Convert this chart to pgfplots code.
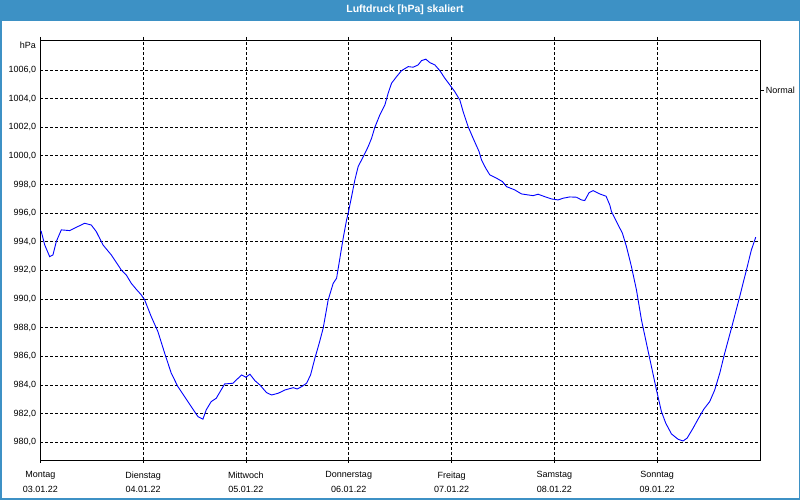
\documentclass[border=0pt]{standalone}
\usepackage{pgfplots}
\pgfplotsset{compat=1.18}
\usepackage{fontspec}
\setmainfont{Liberation Sans}
\definecolor{bar}{HTML}{3D91C5}
\begin{document}
\begin{tikzpicture}[x=1pt,y=1pt]
\useasboundingbox (0,0) rectangle (800,500);
\fill[white] (0,0) rectangle (800,500);
\fill[bar] (0,479.3) rectangle (800,500);
\draw[bar, line width=1.5pt] (0.75,0.75) rectangle (799.25,499.25);
\node[white, font=\bfseries\fontsize{10.5}{12}\selectfont] at (405,489.8) {Luftdruck [hPa] skaliert};
\begin{axis}[
  at={(40.3pt,40pt)}, anchor=south west,
  width=719.7pt, height=420pt, scale only axis,
  xmin=0, xmax=168, ymin=978.76, ymax=1008.09,
  axis line style={black, line width=0.8pt},
  grid=major,
  grid style={black, dash pattern=on 3pt off 2pt, line width=0.8pt},
  xtick={0,24,48,72,96,120,144},
  xticklabels={{Montag\\03.01.22},{Dienstag\\04.01.22},{Mittwoch\\05.01.22},{Donnerstag\\06.01.22},{Freitag\\07.01.22},{Samstag\\08.01.22},{Sonntag\\09.01.22}},
  ytick={980,982,...,1006},
  tick align=outside,
  major tick length=3pt,
  xtick style={black, line width=0.8pt},
  ytick style={draw=none},
  tick label style={font=\fontsize{9}{14.7}\selectfont, black},
  xticklabel style={align=center, inner sep=0pt, yshift=-8.5pt},
  yticklabel style={inner sep=0pt, xshift=-1pt},
  /pgf/number format/.cd, fixed, fixed zerofill, precision=1, use comma, 1000 sep={}, assume math mode=true,
]
\addplot[blue, line width=0.9pt] table {
x y
0 994.8
0.23 994.71
1.03 993.78
2.19 992.96
2.96 993.08
3.73 994.01
4.90 994.83
6.86 994.78
8.40 995.01
10.36 995.29
11.90 995.17
13.07 994.71
14.63 993.78
16.57 993.08
18.90 992.03
20.07 991.68
21.23 991.10
22.40 990.68
23.57 990.29
24.36 989.94
25.90 988.77
27.46 987.72
29.03 986.22
30.57 984.82
32.13 983.88
33.69 983.18
35.23 982.49
36.80 981.79
37.96 981.61
38.73 982.26
39.90 982.84
41.07 983.07
43.03 984.07
44.96 984.12
46.99 984.70
48.00 984.54
48.93 984.75
50.10 984.30
51.26 984.00
52.83 983.46
53.99 983.30
55.53 983.42
57.10 983.65
59.03 983.81
59.97 983.72
60.99 983.88
62.16 984.12
63.09 984.70
64.10 985.87
65.10 986.91
66.03 987.96
67.20 989.94
68.37 991.10
69.16 991.45
69.93 992.85
70.70 994.25
71.49 995.52
71.87 995.99
72.66 997.15
73.43 998.32
74.20 999.25
75.37 999.94
76.53 1000.64
77.33 1001.23
78.10 1002.00
79.26 1002.86
80.43 1003.55
81.20 1004.37
81.99 1005.07
83.16 1005.53
84.33 1005.95
85.87 1006.23
87.03 1006.19
88.20 1006.35
88.99 1006.65
90.00 1006.75
90.93 1006.51
92.10 1006.35
93.26 1005.95
94.43 1005.42
95.60 1004.95
96.76 1004.48
97.93 1003.90
98.70 1003.09
99.87 1002.04
101.03 1001.23
102.43 1000.29
102.99 999.71
103.99 999.13
104.93 998.67
106.49 998.44
107.89 998.20
108.83 997.85
110.76 997.62
112.33 997.34
113.87 997.27
115.03 997.22
116.20 997.32
117.76 997.15
119.33 996.99
120.87 996.92
122.03 997.04
123.60 997.13
125.16 997.11
126.33 996.92
127.10 996.88
128.10 997.43
129.03 997.57
130.60 997.34
132.07 997.18
132.93 996.57
133.33 996.10
134.49 995.41
135.89 994.59
136.83 993.66
137.99 992.26
139.16 990.64
140.33 988.54
141.49 986.91
142.66 985.28
143.83 983.65
144.99 982.14
146.00 981.33
147.33 980.58
148.87 980.21
150.03 980.09
150.97 980.28
152.37 980.98
153.53 981.61
154.86 982.30
156.26 982.84
157.43 983.65
158.60 984.82
159.76 986.22
161.33 987.96
163.26 990.17
164.83 992.03
165.99 993.43
167.00 994.32
};
\end{axis}
\node[anchor=east, inner sep=0pt, font=\fontsize{9}{10}\selectfont] at (36,455) {hPa};
\draw[black, line width=0.8pt] (760,409.3) -- (764,409.3) node[anchor=west, inner sep=1.5pt, font=\fontsize{9}{10}\selectfont] {Normal};
\end{tikzpicture}
\end{document}
